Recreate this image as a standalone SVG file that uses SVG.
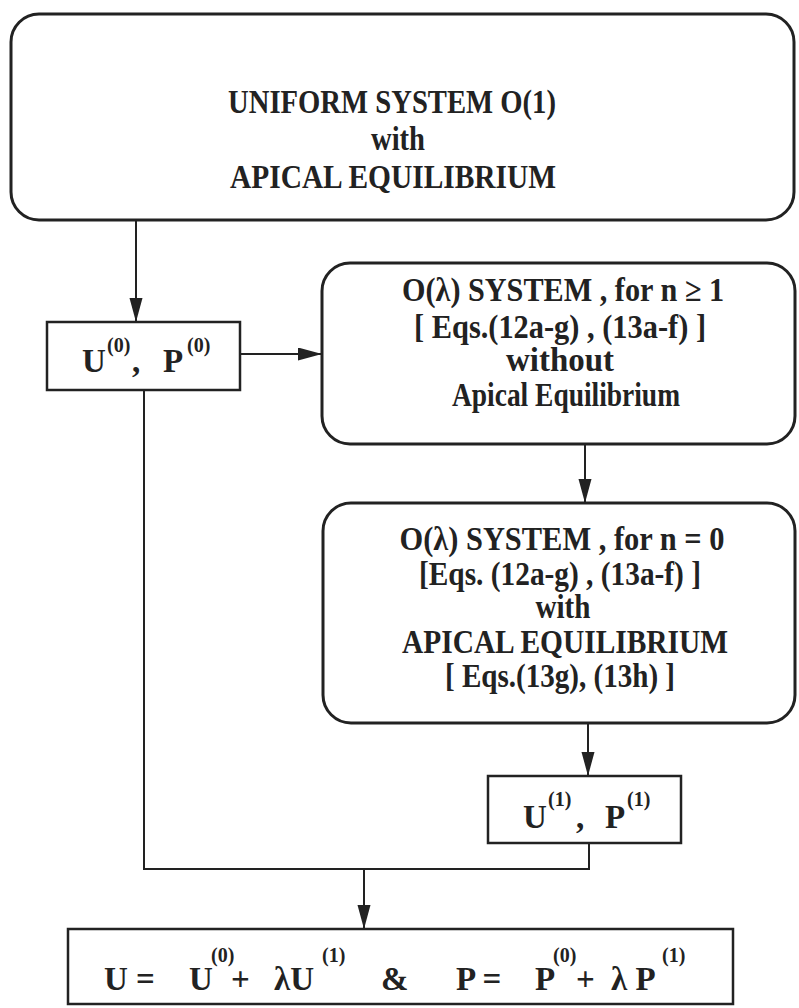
<svg xmlns="http://www.w3.org/2000/svg" width="799" height="1008" viewBox="0 0 799 1008">
<style>
.box{fill:#fff;stroke:#222;stroke-width:3}
.sq{fill:#fff;stroke:#222;stroke-width:2.5}
.t{font-family:"Liberation Serif","Times New Roman",serif;font-weight:bold;fill:#222;font-size:33px;text-anchor:middle}
.m{font-family:"Liberation Serif","Times New Roman",serif;font-weight:bold;fill:#222;font-size:33px}
.s{font-family:"Liberation Serif","Times New Roman",serif;font-weight:bold;fill:#222;font-size:20px}
.c{fill:none;stroke:#222;stroke-width:2}
</style>
<defs>
<marker id="ah" markerUnits="userSpaceOnUse" markerWidth="26" markerHeight="14" refX="24" refY="6.5" orient="auto">
<path d="M0,0 L24,6.5 L0,13 z" fill="#222"/>
</marker>
</defs>
<g id="connectors">
<line class="c" x1="136" y1="220" x2="136" y2="322" marker-end="url(#ah)"/>
<line class="c" x1="240" y1="354" x2="322" y2="354" marker-end="url(#ah)"/>
<line class="c" x1="585" y1="444" x2="585" y2="503" marker-end="url(#ah)"/>
<line class="c" x1="588" y1="723" x2="588" y2="776" marker-end="url(#ah)"/>
<path class="c" d="M589,843 V869 H144 V390"/>
<line class="c" x1="364" y1="869" x2="364" y2="929" marker-end="url(#ah)"/>
</g>
<g id="uniform">
<rect class="box" x="11" y="14" width="783" height="206" rx="28"/>
<text class="t" x="392" y="113" textLength="328" lengthAdjust="spacingAndGlyphs">UNIFORM SYSTEM O(1)</text>
<text class="t" x="398" y="150" textLength="54" lengthAdjust="spacingAndGlyphs">with</text>
<text class="t" x="393" y="188" textLength="326" lengthAdjust="spacingAndGlyphs">APICAL EQUILIBRIUM</text>
</g>
<g id="u0">
<rect class="sq" x="47" y="322" width="193" height="68"/>
<text class="m" x="82" y="372">U</text>
<text class="s" x="107" y="352">(0)</text>
<text class="m" x="132" y="372">,</text>
<text class="m" x="163" y="372">P</text>
<text class="s" x="187" y="352">(0)</text>
</g>
<g id="sys1">
<rect class="box" x="322" y="263" width="473" height="181" rx="28"/>
<text class="t" x="563" y="301" textLength="322" lengthAdjust="spacingAndGlyphs">O(λ)  SYSTEM , for n ≥ 1</text>
<text class="t" x="560" y="338" textLength="292" lengthAdjust="spacingAndGlyphs">[ Eqs.(12a-g) , (13a-f) ]</text>
<text class="t" x="560" y="371" textLength="108" lengthAdjust="spacingAndGlyphs">without</text>
<text class="t" x="566" y="406" textLength="228" lengthAdjust="spacingAndGlyphs">Apical Equilibrium</text>
</g>
<g id="sys0">
<rect class="box" x="323" y="503" width="472" height="220" rx="28"/>
<text class="t" x="562" y="550" textLength="325" lengthAdjust="spacingAndGlyphs">O(λ)  SYSTEM , for n = 0</text>
<text class="t" x="560" y="585" textLength="282" lengthAdjust="spacingAndGlyphs">[Eqs. (12a-g) , (13a-f) ]</text>
<text class="t" x="563" y="618" textLength="55" lengthAdjust="spacingAndGlyphs">with</text>
<text class="t" x="565" y="653" textLength="326" lengthAdjust="spacingAndGlyphs">APICAL EQUILIBRIUM</text>
<text class="t" x="560" y="687" textLength="230" lengthAdjust="spacingAndGlyphs">[ Eqs.(13g), (13h) ]</text>
</g>
<g id="u1">
<rect class="sq" x="488" y="776" width="193" height="67"/>
<text class="m" x="523" y="828">U</text>
<text class="s" x="548" y="806">(1)</text>
<text class="m" x="576" y="828">,</text>
<text class="m" x="605" y="828">P</text>
<text class="s" x="627" y="806">(1)</text>
</g>
<g id="result">
<rect class="sq" x="68" y="929" width="665" height="75"/>
<text class="m" x="104" y="990">U =</text>
<text class="m" x="189" y="990">U</text>
<text class="s" x="211" y="962">(0)</text>
<text class="m" x="231" y="990">+</text>
<text class="m" x="274" y="990">λU</text>
<text class="s" x="322" y="962">(1)</text>
<text class="m" x="381" y="990">&amp;</text>
<text class="m" x="456" y="990">P =</text>
<text class="m" x="535" y="990">P</text>
<text class="s" x="553" y="962">(0)</text>
<text class="m" x="576" y="990">+</text>
<text class="m" x="611" y="990">λ P</text>
<text class="s" x="662" y="962">(1)</text>
</g>
</svg>
